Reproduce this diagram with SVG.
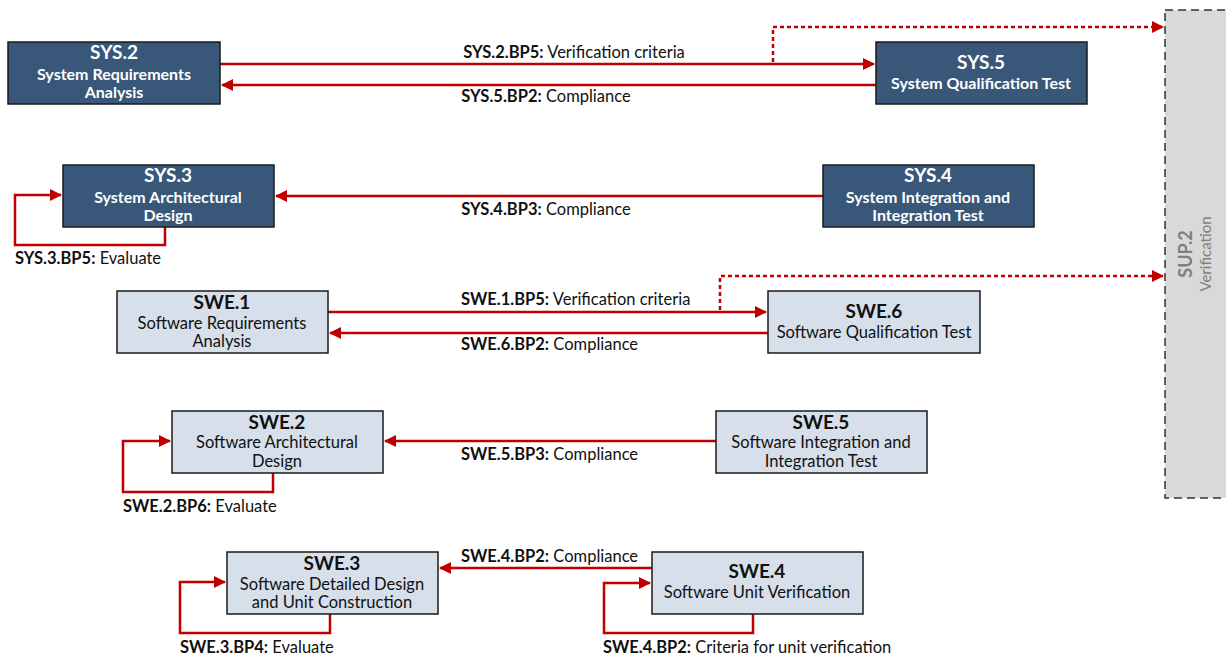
<svg xmlns="http://www.w3.org/2000/svg" width="1226" height="658" viewBox="0 0 1226 658">
<style>
text{font-family:Lato,"Open Sans","Liberation Sans",sans-serif}
.dk{fill:#385779;stroke:#1a1a1a;stroke-width:1.5}
.lt{fill:#d6dfea;stroke:#1a1a1a;stroke-width:1.5}
.dt{fill:#fff;font-weight:bold;text-anchor:middle}
.dt1{font-size:19px}
.dt2{font-size:16px}
.lt1{fill:#111;font-weight:bold;text-anchor:middle;font-size:19px}
.lt2{fill:#111;text-anchor:middle;font-size:16.5px}
.c{fill:none;stroke:#c00000;stroke-width:2.5}
.d{fill:none;stroke:#c00000;stroke-width:2.5;stroke-dasharray:4 3}
.lab{font-size:16.5px;fill:#111}
.b{font-weight:bold}
</style>
<defs>
<marker id="ah" viewBox="0 0 12 12" refX="11" refY="6" markerWidth="12" markerHeight="12" markerUnits="userSpaceOnUse" orient="auto">
<path d="M0,0 L12,6 L0,12 z" fill="#c00000"/>
</marker>
</defs>

<g id="sup2">
<rect x="1165" y="10" width="70" height="488" fill="#d9d9d9" stroke="#333" stroke-width="1.5" stroke-dasharray="8 5"/>
<text transform="translate(1192,254) rotate(-90)" text-anchor="middle" font-size="18" font-weight="bold" fill="#7f7f7f">SUP.2</text>
<text transform="translate(1211,254) rotate(-90)" text-anchor="middle" font-size="15" fill="#7f7f7f">Verification</text>
</g>

<g id="connectors">
<path class="c" d="M220,64 H874" marker-end="url(#ah)"/>
<path class="c" d="M876,85 H222" marker-end="url(#ah)"/>
<path class="d" d="M773,62 V27 H1163" marker-end="url(#ah)"/>
<path class="c" d="M823,196 H276" marker-end="url(#ah)"/>
<path class="c" d="M165,227 V245 H15 V195 H61" marker-end="url(#ah)"/>
<path class="c" d="M328,312 H766" marker-end="url(#ah)"/>
<path class="c" d="M768,333 H330" marker-end="url(#ah)"/>
<path class="d" d="M720,310 V276 H1163" marker-end="url(#ah)"/>
<path class="c" d="M716,441 H385" marker-end="url(#ah)"/>
<path class="c" d="M273,473 V492 H123 V441 H170" marker-end="url(#ah)"/>
<path class="c" d="M652,568 H440" marker-end="url(#ah)"/>
<path class="c" d="M330,614 V633 H180 V582 H225" marker-end="url(#ah)"/>
<path class="c" d="M753,614 V633 H604 V583 H650" marker-end="url(#ah)"/>
</g>

<g id="labels">
<text class="lab" x="574" y="58" text-anchor="middle"><tspan class="b">SYS.2.BP5:</tspan> Verification criteria</text>
<text class="lab" x="546" y="102" text-anchor="middle"><tspan class="b">SYS.5.BP2:</tspan> Compliance</text>
<text class="lab" x="546" y="215" text-anchor="middle"><tspan class="b">SYS.4.BP3:</tspan> Compliance</text>
<text class="lab" x="15" y="264"><tspan class="b">SYS.3.BP5:</tspan> Evaluate</text>
<text class="lab" x="461" y="305"><tspan class="b">SWE.1.BP5:</tspan> Verification criteria</text>
<text class="lab" x="461" y="350"><tspan class="b">SWE.6.BP2:</tspan> Compliance</text>
<text class="lab" x="461" y="460"><tspan class="b">SWE.5.BP3:</tspan> Compliance</text>
<text class="lab" x="123" y="512"><tspan class="b">SWE.2.BP6:</tspan> Evaluate</text>
<text class="lab" x="461" y="562"><tspan class="b">SWE.4.BP2:</tspan> Compliance</text>
<text class="lab" x="180" y="653"><tspan class="b">SWE.3.BP4:</tspan> Evaluate</text>
<text class="lab" x="603" y="653"><tspan class="b">SWE.4.BP2:</tspan> Criteria for unit verification</text>
</g>

<g id="sys2">
<rect class="dk" x="8" y="42" width="212" height="62"/>
<text class="dt dt1" x="114" y="59">SYS.2</text>
<text class="dt dt2" x="114" y="80">System Requirements</text>
<text class="dt dt2" x="114" y="98">Analysis</text>
</g>
<g id="sys5">
<rect class="dk" x="876" y="42" width="211" height="62"/>
<text class="dt dt1" x="981" y="69">SYS.5</text>
<text class="dt dt2" x="981" y="89">System Qualification Test</text>
</g>
<g id="sys3">
<rect class="dk" x="63" y="165" width="211" height="62"/>
<text class="dt dt1" x="168" y="182">SYS.3</text>
<text class="dt dt2" x="168" y="203">System Architectural</text>
<text class="dt dt2" x="168" y="221">Design</text>
</g>
<g id="sys4">
<rect class="dk" x="823" y="165" width="211" height="62"/>
<text class="dt dt1" x="928" y="182">SYS.4</text>
<text class="dt dt2" x="928" y="203">System Integration and</text>
<text class="dt dt2" x="928" y="221">Integration Test</text>
</g>
<g id="swe1">
<rect class="lt" x="117" y="291" width="211" height="62"/>
<text class="lt1" x="222" y="309">SWE.1</text>
<text class="lt2" x="222" y="329">Software Requirements</text>
<text class="lt2" x="222" y="347">Analysis</text>
</g>
<g id="swe6">
<rect class="lt" x="768" y="291" width="212" height="62"/>
<text class="lt1" x="874" y="318">SWE.6</text>
<text class="lt2" x="874" y="338">Software Qualification Test</text>
</g>
<g id="swe2">
<rect class="lt" x="172" y="411" width="211" height="62"/>
<text class="lt1" x="277" y="429">SWE.2</text>
<text class="lt2" x="277" y="448">Software Architectural</text>
<text class="lt2" x="277" y="467">Design</text>
</g>
<g id="swe5">
<rect class="lt" x="716" y="411" width="211" height="62"/>
<text class="lt1" x="821" y="429">SWE.5</text>
<text class="lt2" x="821" y="448">Software Integration and</text>
<text class="lt2" x="821" y="467">Integration Test</text>
</g>
<g id="swe3">
<rect class="lt" x="227" y="552" width="211" height="62"/>
<text class="lt1" x="332" y="570">SWE.3</text>
<text class="lt2" x="332" y="590">Software Detailed Design</text>
<text class="lt2" x="332" y="608">and Unit Construction</text>
</g>
<g id="swe4">
<rect class="lt" x="652" y="552" width="211" height="62"/>
<text class="lt1" x="757" y="578">SWE.4</text>
<text class="lt2" x="757" y="598">Software Unit Verification</text>
</g>
</svg>
